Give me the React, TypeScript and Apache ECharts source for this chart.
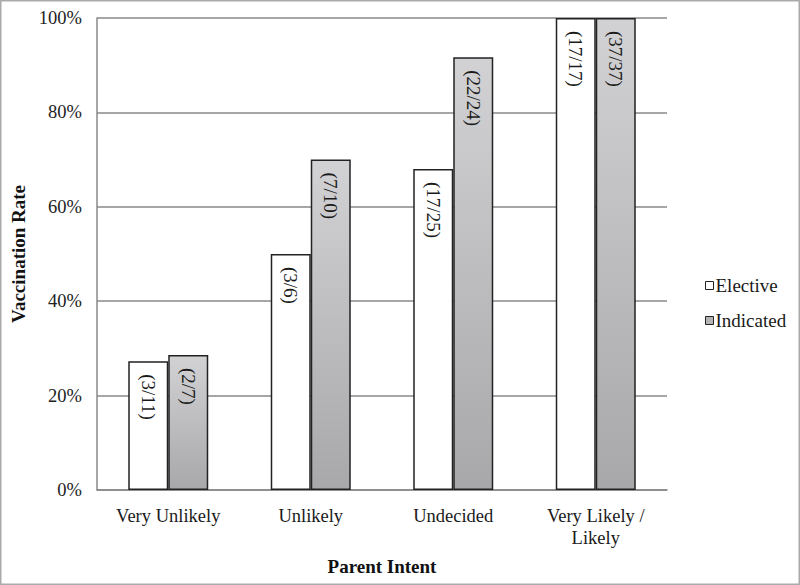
import React, { useEffect, useRef } from "react";
import * as echarts from "echarts";

const categories = ["Very Unlikely", "Unlikely", "Undecided", "Very Likely /\nLikely"];
const electiveValues = [27.3, 50, 68, 100];
const indicatedValues = [28.6, 70, 91.7, 100];
const electiveLabels = ["(3/11)", "(3/6)", "(17/25)", "(17/17)"];
const indicatedLabels = ["(2/7)", "(7/10)", "(22/24)", "(37/37)"];
const yTicks = [0, 20, 40, 60, 80, 100];

const FONT = "'Liberation Serif', 'Times New Roman', serif";

export default function App() {
  const ref = useRef<HTMLDivElement>(null);
  useEffect(() => {
    if (!ref.current) return;
    const chart = echarts.init(ref.current, null, { renderer: "svg" });
    const grayGrad = new echarts.graphic.LinearGradient(0, 0, 0, 1, [
      { offset: 0, color: "#d2d2d4" },
      { offset: 1, color: "#a8a8aa" },
    ]);
    const dataLabel = (labels: string[]) => ({
      show: true,
      position: "insideTop",
      rotate: -90,
      align: "left",
      verticalAlign: "middle",
      distance: 13,
      fontFamily: FONT,
      fontSize: 19,
      color: "#1a1a1a",
      formatter: (p: any) => labels[p.dataIndex],
    });
    chart.setOption({
      animation: false,
      backgroundColor: "#ffffff",
      textStyle: { fontFamily: FONT },
      graphic: [
        {
          type: "rect",
          shape: { x: 0.5, y: 0.5, width: 799, height: 584 },
          style: { fill: "none", stroke: "#aaaaaa", lineWidth: 2 },
          silent: true,
        },
      ],
      grid: { left: 97, right: 133, top: 18, bottom: 95 },
      legend: {
        orient: "vertical",
        left: 700,
        top: 271,
        itemWidth: 8,
        itemHeight: 8,
        itemGap: 16,
        icon: "rect",
        textStyle: { fontFamily: FONT, fontSize: 19, color: "#1a1a1a", padding: [0, 0, 0, -3] },
        data: [
          { name: "Elective", itemStyle: { color: "#ffffff", borderColor: "#222", borderWidth: 1 } },
          { name: "Indicated", itemStyle: { color: "#b4b4b6", borderColor: "#222", borderWidth: 1 } },
        ],
      },
      xAxis: {
        type: "category",
        data: categories,
        name: "Parent Intent",
        nameLocation: "middle",
        nameGap: 67,
        nameTextStyle: { fontFamily: FONT, fontSize: 19, fontWeight: "bold", color: "#111" },
        axisLine: { show: true, lineStyle: { color: "#888", width: 1.5 } },
        axisTick: { show: false },
        axisLabel: {
          fontFamily: FONT,
          fontSize: 18.5,
          color: "#1a1a1a",
          margin: 15,
          lineHeight: 22,
        },
      },
      yAxis: {
        type: "value",
        min: 0,
        max: 100,
        interval: 20,
        name: "Vaccination Rate",
        nameLocation: "middle",
        nameGap: 67,
        nameTextStyle: { fontFamily: FONT, fontSize: 19, fontWeight: "bold", color: "#111" },
        axisLine: { show: true, lineStyle: { color: "#888", width: 1.5 } },
        axisTick: { show: false },
        splitLine: { show: true, lineStyle: { color: "#888", width: 1.5 } },
        axisLabel: {
          fontFamily: FONT,
          fontSize: 18.5,
          color: "#222",
          margin: 15,
          formatter: (v: number) => (yTicks.includes(v) ? `${v}%` : ""),
        },
      },
      series: [
        {
          name: "Elective",
          type: "bar",
          data: electiveValues,
          barWidth: 40,
          barGap: "0%",
          itemStyle: { color: "#ffffff", borderColor: "#222", borderWidth: 1.5 },
          label: dataLabel(electiveLabels),
        },
        {
          name: "Indicated",
          type: "bar",
          data: indicatedValues,
          barWidth: 40,
          barGap: "0%",
          itemStyle: { color: grayGrad, borderColor: "#222", borderWidth: 1.5 },
          label: dataLabel(indicatedLabels),
        },
      ],
    });
    return () => chart.dispose();
  }, []);
  return (
    <div
      ref={ref}
      style={{ position: "fixed", left: 0, top: 0, width: 800, height: 585 }}
    />
  );
}
